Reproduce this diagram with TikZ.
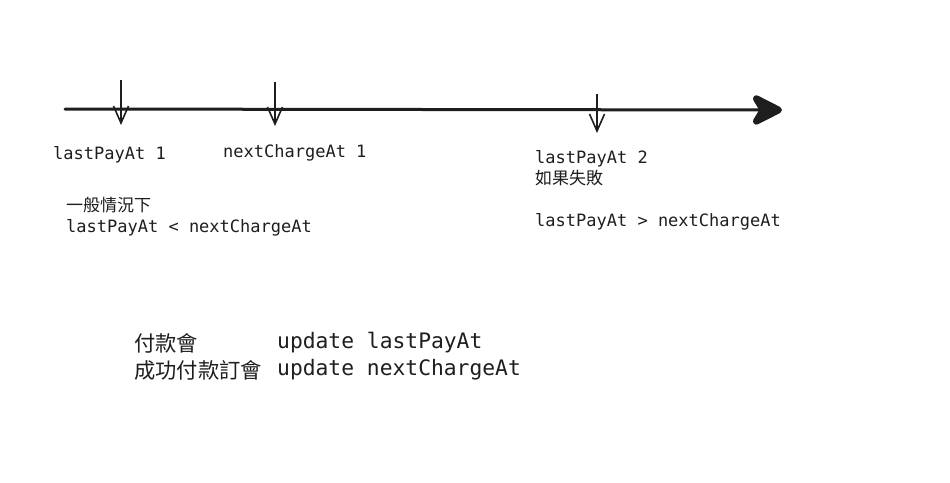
\documentclass[tikz,border=0pt]{standalone}
\usepackage{fontspec}
\setmonofont{DejaVu Sans Mono}
\newfontfamily\cjk{Noto Sans CJK TC}
\usetikzlibrary{arrows.meta}
\definecolor{ink}{HTML}{1E1E1E}

\tikzset{
  label text/.style={inner sep=0pt, text=ink, align=left,
    font=\ttfamily\fontsize{17}{21}\selectfont},
  big text/.style={inner sep=0pt, text=ink, anchor=west,
    font=\ttfamily\fontsize{21.3}{27}\selectfont},
  tick/.style={draw=ink, line width=1.6pt, -{Straight Barb[length=17pt,width=15pt]}},
}

\begin{document}
\begin{tikzpicture}[x=1pt,y=-1pt]
\useasboundingbox[fill=white] (0,0) rectangle (950,482);

% time line
\coordinate (start) at (65,109);
\coordinate (end) at (782,110);
\draw[ink, line width=3pt, line cap=round,
  -{Stealth[length=38pt,width=38pt,inset=11pt,round,line width=8pt]}] (start) -- (end);

% ticks on the line
\coordinate (pay1top) at (121,80);
\coordinate (pay1bot) at (121,125);
\coordinate (charge1top) at (275,82);
\coordinate (charge1bot) at (275,126);
\coordinate (pay2top) at (597,94);
\coordinate (pay2bot) at (597,133);
\draw[tick] (pay1top) -- (pay1bot);
\draw[tick] (charge1top) -- (charge1bot);
\draw[tick] (pay2top) -- (pay2bot);

% labels
\node[label text, anchor=west] (pay1) at (53,155) {lastPayAt 1};
\node[label text, anchor=west] (charge1) at (223,153) {nextChargeAt 1};
\node[label text, anchor=north west] (pay2) at (535,150)
  {lastPayAt 2\\{\cjk 如果失敗}\\ \\lastPayAt > nextChargeAt};
\node[label text, anchor=north west] (normal) at (66,197)
  {{\cjk 一般情況下}\\lastPayAt < nextChargeAt};

% notes
\node[big text] (note1a) at (134,343) {\cjk 付款會};
\node[big text] (note1b) at (277,343) {update lastPayAt};
\node[big text] (note2a) at (134,370) {\cjk 成功付款訂會};
\node[big text] (note2b) at (277,370) {update nextChargeAt};
\end{tikzpicture}
\end{document}
